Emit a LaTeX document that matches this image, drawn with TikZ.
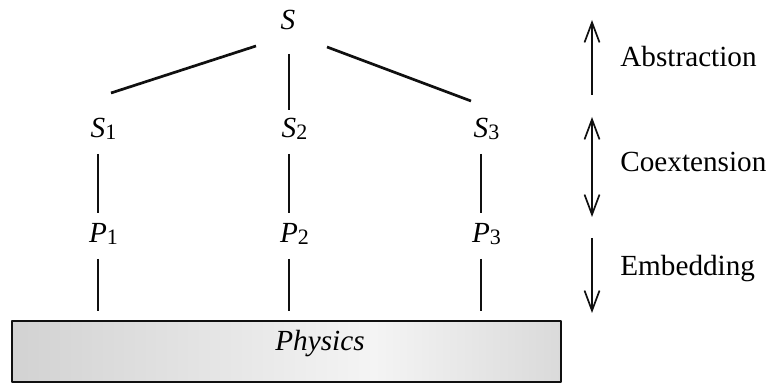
\documentclass[tikz,border=0pt]{standalone}
\usepackage{fontspec}
\setmainfont{Liberation Serif}
\usetikzlibrary{calc,arrows.meta}
\newcommand{\Unit}{0.5pt}
\newcommand{\Wire}{1.35pt}
\newcommand{\Low}[1]{\rlap{\raisebox{-1pt}{\upshape\fontsize{11}{13}\selectfont #1}}}
\definecolor{ink}{HTML}{101010}
\definecolor{slab}{HTML}{D2D2D2}
\definecolor{slabR}{HTML}{DADADA}
\definecolor{glow}{HTML}{F4F4F4}
\pgfdeclarehorizontalshading{slabshade}{100bp}{color(0bp)=(slab); color(25bp)=(slab);
  color(58bp)=(glow); color(75bp)=(slabR); color(100bp)=(slabR)}

\begin{document}
\begin{tikzpicture}[x=\Unit,y=-\Unit, line join=round,
  font=\fontsize{14.6}{17}\selectfont,
  term/.style={font=\fontsize{14.6}{17}\selectfont\itshape, inner sep=0pt,
               text height=0.66em, text depth=0pt},
  wire/.style={ink,line width=\Wire},
  axis/.style={ink,line width=0.85pt},
  tip/.style={-{Straight Barb[length=10pt,width=7.5pt]}},
  slabbox/.style={draw=ink,line width=1.3pt,minimum width=274.5pt,minimum height=30.5pt,
                  inner sep=0pt,shading=slabshade}]
  \useasboundingbox (0,0) rectangle (771,383);

  % ---- the ground everything sits on -------------------------------------
  \node[slabbox] (slab) at (286.5,351.5) {};
  \node[term] (phys) at (320,344) {Physics};

  % ---- top of the tree ---------------------------------------------------
  \node[term] (S) at (288,23) {S};

  % ---- one column per system: S_i over P_i -------------------------------
  \foreach \i/\x in {1/99,2/290,3/482} {
    \node[term] (S\i) at (\x-1,131) {S\Low{\i}};
    \node[term] (P\i) at (\x-1,236) {P\Low{\i}};
    \draw[wire,shorten <=8pt,shorten >=8pt] (S\i) -- (P\i);
    \draw[wire,shorten <=8pt,shorten >=4.5pt] (P\i) -- (P\i |- slab.north);
  }

  % ---- abstraction branches ----------------------------------------------
  \draw[wire] ($(S)+(-32,23)$) -- ($(S1)+(13,-38)$);
  \draw[wire,shorten <=12pt,shorten >=7pt] (S2 |- S.south) -- (S2);
  \draw[wire] ($(S)+(39,24)$) -- ($(S3)+(-10,-30)$);

  % ---- the three relations, read off on the right -------------------------
  \coordinate (abTop) at (592,20);  \coordinate (abBot) at (592,95);
  \coordinate (coTop) at (592,117); \coordinate (coBot) at (592,217);
  \coordinate (emTop) at (592,238); \coordinate (emBot) at (592,313);
  \draw[axis,tip] (abBot) -- (abTop);
  \draw[axis,{Straight Barb[length=10pt,width=7.5pt]}-{Straight Barb[length=10pt,width=7.5pt]}] (coTop) -- (coBot);
  \draw[axis,tip] (emTop) -- (emBot);

  \node[anchor=base west,inner sep=0pt] (abs) at (620,67) {Abstraction};
  \node[anchor=base west,inner sep=0pt] (coe) at (620,172) {Coextension};
  \node[anchor=base west,inner sep=0pt] (emb) at (620,276) {Embedding};

\end{tikzpicture}
\end{document}
